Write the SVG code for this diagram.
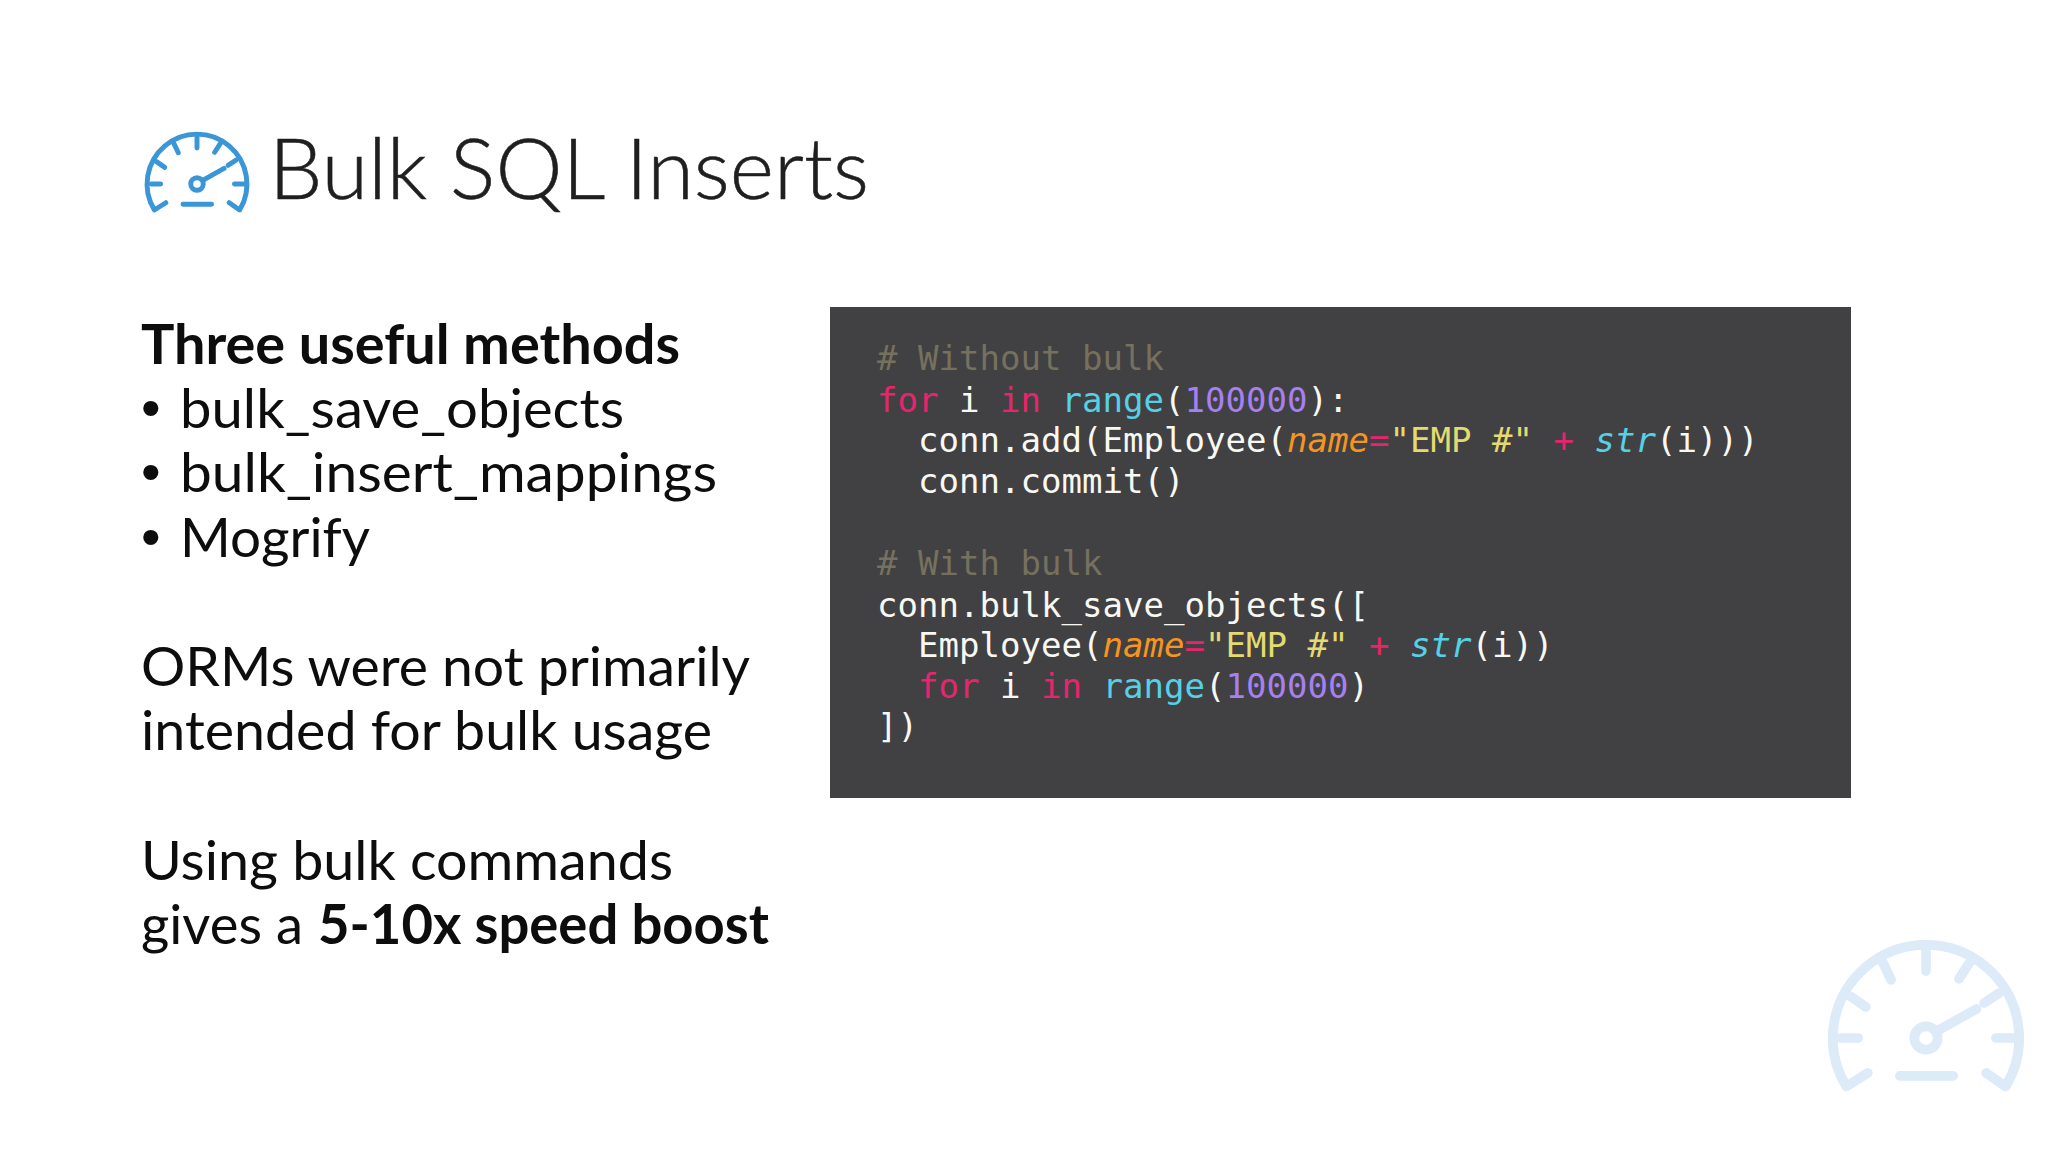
<svg xmlns="http://www.w3.org/2000/svg" width="2048" height="1152" viewBox="0 0 2048 1152">
<style>
.t{font-family:"Lato","Liberation Sans",sans-serif;font-size:55px;fill:#0d0d0d}
.d{font-family:"Liberation Sans",sans-serif;font-size:56px;fill:#0d0d0d}
.b{font-weight:700}
.title{font-family:"Lato","Liberation Sans",sans-serif;font-weight:300;font-size:85px;fill:#1f1f1f;stroke:#1f1f1f;stroke-width:.6px}
.c{font-family:"DejaVu Sans Mono","Liberation Mono",monospace;font-size:34.05px;fill:#f8f8f2;white-space:pre}
.cm{fill:#75715e}.k{fill:#e5266e}.f{fill:#56d0e4}.n{fill:#a680f0}.a{fill:#f5951f;font-style:italic}.s{fill:#e4da72}.i{font-style:italic;fill:#56d0e4}
.g{fill:none;stroke-linecap:round;stroke-linejoin:round}
</style>
<defs>
<g id="gauge">
<path d="M-60 36L-82 50A96 96 0 1 1 82 50L62 36"/>
<path d="M-27 39H28M-88 0H-70M72 0H92M0 -91V-69M-45 -79L-36 -60M45 -78L34 -61M-78 -43L-62 -32M75 -46L60 -36M11 -7L52 -30"/>
<circle r="12"/>
</g>
</defs>
<rect width="2048" height="1152" fill="#ffffff"/>
<g id="title-icon" class="g" stroke="#3a96d6" stroke-width="9.5"><use href="#gauge" transform="translate(197 184) scale(.52)"/></g>
<text id="title" class="title" x="269" y="199" textLength="600" lengthAdjust="spacingAndGlyphs">Bulk SQL Inserts</text>
<g id="left-text">
<text class="t b" x="141" y="364" textLength="539" lengthAdjust="spacingAndGlyphs">Three useful methods</text>
<text class="d" x="141" y="427">•</text><text class="t" x="180" y="428" textLength="444" lengthAdjust="spacingAndGlyphs">bulk_save_objects</text>
<text class="d" x="141" y="491">•</text><text class="t" x="180" y="492" textLength="537" lengthAdjust="spacingAndGlyphs">bulk_insert_mappings</text>
<text class="d" x="141" y="556">•</text><text class="t" x="180" y="557" textLength="190" lengthAdjust="spacingAndGlyphs">Mogrify</text>
<text class="t" x="141" y="686" textLength="609" lengthAdjust="spacingAndGlyphs">ORMs were not primarily</text>
<text class="t" x="141" y="750" textLength="571" lengthAdjust="spacingAndGlyphs">intended for bulk usage</text>
<text class="t" x="141" y="880" textLength="532" lengthAdjust="spacingAndGlyphs">Using bulk commands</text>
<text class="t" x="141" y="944" textLength="162" lengthAdjust="spacingAndGlyphs">gives a</text><text class="t b" x="318" y="944" textLength="451" lengthAdjust="spacingAndGlyphs">5-10x speed boost</text>
</g>
<g id="code-panel">
<rect x="830" y="307" width="1021" height="491" fill="#414042"/>
<text class="c cm" x="877" y="370"># Without bulk</text>
<text class="c" x="877" y="412"><tspan class="k">for</tspan> i <tspan class="k">in</tspan> <tspan class="f">range</tspan>(<tspan class="n">100000</tspan>):</text>
<text class="c" x="918" y="452">conn.add(Employee(<tspan class="a">name</tspan><tspan class="k">=</tspan><tspan class="s">"EMP #"</tspan> <tspan class="k">+</tspan> <tspan class="i">str</tspan>(i)))</text>
<text class="c" x="918" y="493">conn.commit()</text>
<text class="c cm" x="877" y="575"># With bulk</text>
<text class="c" x="877" y="617">conn.bulk_save_objects([</text>
<text class="c" x="918" y="657">Employee(<tspan class="a">name</tspan><tspan class="k">=</tspan><tspan class="s">"EMP #"</tspan> <tspan class="k">+</tspan> <tspan class="i">str</tspan>(i))</text>
<text class="c" x="918" y="698"><tspan class="k">for</tspan> i <tspan class="k">in</tspan> <tspan class="f">range</tspan>(<tspan class="n">100000</tspan>)</text>
<text class="c" x="877" y="738">])</text>
</g>
<g id="watermark-icon" class="g" stroke="#dcebf7" stroke-width="10"><use href="#gauge" transform="translate(1926 1038) scale(.97)"/></g>
</svg>
